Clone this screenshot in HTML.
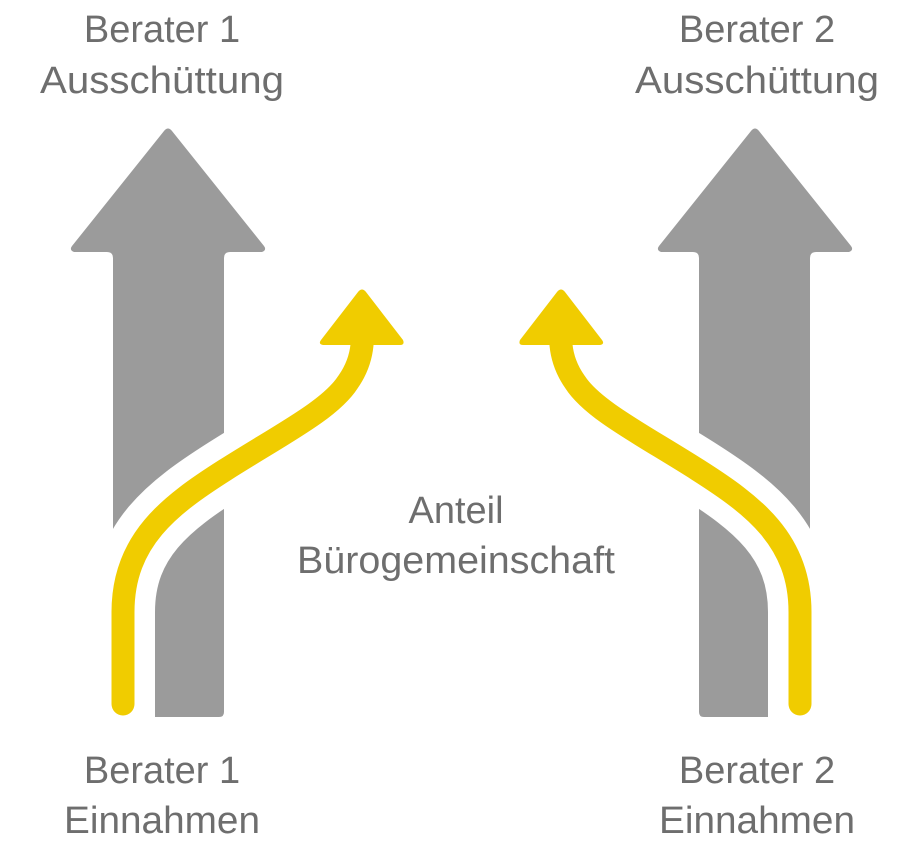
<!DOCTYPE html>
<html><head><meta charset="utf-8"><style>
html,body{margin:0;padding:0;background:#fff;}
svg{display:block;}
text{font-family:"Liberation Sans",sans-serif;fill:#6e6e6e;font-size:38px;}
</style></head><body>
<svg width="920" height="848" viewBox="0 0 920 848" xmlns="http://www.w3.org/2000/svg">
<defs>
<g id="half">
  <path d="M113,712 L113,258 Q113,252 107,252 L74,252 Q69,250 72,246 L164,131 Q168,126 172,131 L264,246 Q267,250 262,252 L230,252 Q224,252 224,258 L224,712 Q224,717 219,717 L118,717 Q113,717 113,712 Z" fill="#9b9b9b"/>
  <path d="M123,730 L123,612 C123,540 170,505 225,470 C280,435 330,410 348,382 Q360,365 362,345" fill="none" stroke="#fff" stroke-width="64" stroke-linecap="butt"/>
  <path d="M123,704 L123,612 C123,540 170,505 225,470 C280,435 330,410 348,382 Q360,365 362,345" fill="none" stroke="#f0cc00" stroke-width="23" stroke-linecap="round"/>
  <path d="M323,345 Q318,344 321,340 L358,292 Q362,287 366,292 L403,340 Q405,345 400,345 Z" fill="#f0cc00"/>
</g>
</defs>
<use href="#half"/>
<use href="#half" transform="translate(923,0) scale(-1,1)"/>
<text x="162" y="42" text-anchor="middle">Berater 1</text>
<text x="162" y="93" text-anchor="middle" textLength="244" lengthAdjust="spacingAndGlyphs">Ausschüttung</text>
<text x="757" y="42" text-anchor="middle">Berater 2</text>
<text x="757" y="93" text-anchor="middle" textLength="244" lengthAdjust="spacingAndGlyphs">Ausschüttung</text>
<text x="456" y="523" text-anchor="middle">Anteil</text>
<text x="456" y="573" text-anchor="middle" textLength="318" lengthAdjust="spacingAndGlyphs">Bürogemeinschaft</text>
<text x="162" y="783" text-anchor="middle">Berater 1</text>
<text x="162" y="833" text-anchor="middle" textLength="196" lengthAdjust="spacingAndGlyphs">Einnahmen</text>
<text x="757" y="783" text-anchor="middle">Berater 2</text>
<text x="757" y="833" text-anchor="middle" textLength="196" lengthAdjust="spacingAndGlyphs">Einnahmen</text>
</svg>
</body></html>
